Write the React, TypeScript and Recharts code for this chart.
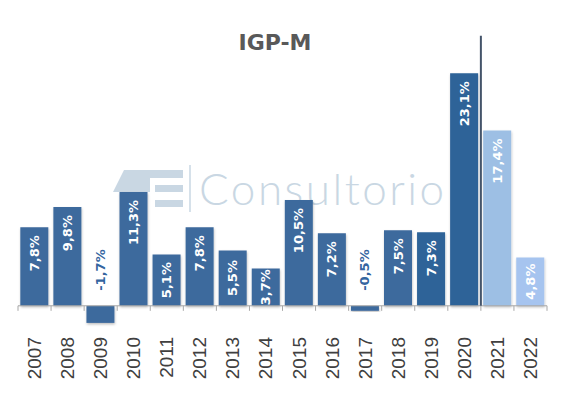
import React from 'react';
import { BarChart, Bar, XAxis, YAxis, Cell, LabelList, ReferenceLine } from 'recharts';

// IGP-M anual (%)
const years = ['2007', '2008', '2009', '2010', '2011', '2012', '2013', '2014', '2015', '2016', '2017', '2018', '2019', '2020', '2021', '2022'];
const igpm = [7.8, 9.8, -1.7, 11.3, 5.1, 7.8, 5.5, 3.7, 10.5, 7.2, -0.5, 7.5, 7.3, 23.1, 17.4, 4.8];
const yDomain = [-3, 25];

const chartData = years.map((year, i) => ({ year, value: igpm[i] }));

const W = 570;
const H = 397;
const AXIS_GREY = '#A6A6A6';
const LABEL_BLUE = '#3465A0';

function barColor(year: string) {
  if (year === '2021') return '#9DBFE4';
  if (year === '2022') return '#A6C4EF';
  if (year === '2019' || year === '2020') return '#2E6398';
  return '#3D6A9D';
}

const fmt = (v: number) => v.toFixed(1).replace('.', ',') + '%';

function BarLabel(props: any) {
  const { x, y, width, height, value } = props;
  const cx = x + width / 2;
  const top = Math.min(y, y + height);
  const bottom = Math.max(y, y + height);
  const common = {
    fontFamily: 'DejaVu Sans, sans-serif',
    fontWeight: 700,
    fontSize: 13,
    dominantBaseline: 'central' as const,
  };
  if (value < 0) {
    // label sits above the zero line, in blue
    const py = top - 15;
    return (
      <text x={cx} y={py} transform={`rotate(-90 ${cx} ${py})`} textAnchor="start" fill={LABEL_BLUE} {...common}>
        {fmt(value)}
      </text>
    );
  }
  const h = bottom - top;
  if (h < 62) {
    const py = (top + bottom) / 2;
    return (
      <text x={cx} y={py} transform={`rotate(-90 ${cx} ${py})`} textAnchor="middle" fill="#fff" {...common}>
        {fmt(value)}
      </text>
    );
  }
  const py = top + 8;
  return (
    <text x={cx} y={py} transform={`rotate(-90 ${cx} ${py})`} textAnchor="end" fill="#fff" {...common}>
      {fmt(value)}
    </text>
  );
}

function YearTick(props: any) {
  const { x, y, payload } = props;
  const py = y + 1;
  return (
    <text
      x={x}
      y={py}
      transform={`rotate(-90 ${x} ${py})`}
      textAnchor="end"
      dominantBaseline="central"
      fontFamily="Liberation Sans Narrow, Liberation Sans, sans-serif"
      fontSize={19}
      fill="#404040"
    >
      {payload.value}
    </text>
  );
}

function Watermark() {
  const c = '#C9D7E3';
  return (
    <svg width={W} height={H} style={{ position: 'absolute', left: 0, top: 0 }}>
      <defs>
        <filter id="barShadow" x="-20%" y="-10%" width="140%" height="130%">
          <feDropShadow dx="0.5" dy="1.5" stdDeviation="1.2" floodColor="#000" floodOpacity="0.25" />
        </filter>
      </defs>
      <polygon points="113,192 124,170 183,170 183,178 150,178 150,192" fill={c} />
      <rect x={155} y={185} width={28} height={7} fill={c} />
      <rect x={155} y={200} width={28} height={7} fill={c} />
      <line x1={190} y1={165} x2={190} y2={212} stroke={c} strokeWidth={1.5} />
      <text x={199} y={205} fontFamily="Lato, sans-serif" fontWeight={300} fontSize={44} letterSpacing={2.5} fill={c}>
        Consultorio
      </text>
    </svg>
  );
}

export default function App() {
  return (
    <div style={{ position: 'absolute', left: 0, top: 0, width: W, height: H, background: '#fff' }}>
      <Watermark />
      <div
        style={{
          position: 'absolute',
          left: 0,
          top: 30,
          width: 550,
          textAlign: 'center',
          fontFamily: 'DejaVu Sans, sans-serif',
          fontWeight: 700,
          fontSize: 22,
          color: '#595959',
        }}
      >
        IGP-M
      </div>
      <div style={{ position: 'absolute', left: 0, top: 0 }}>
        <BarChart width={W} height={H} data={chartData} margin={{ top: 54, right: 23, bottom: 31, left: 18 }} barCategoryGap="7%">
          <XAxis dataKey="year" height={30} axisLine={false} tickLine={false} tickSize={0} tickMargin={0} interval={0} tick={<YearTick />} />
          <YAxis hide domain={yDomain} />
          <ReferenceLine y={0} stroke={AXIS_GREY} strokeWidth={1} />
          {years.map((yr) => (
            <ReferenceLine
              key={yr}
              segment={[{ x: yr, y: 0 }, { x: yr, y: -0.5 }]}
              position="start"
              stroke={AXIS_GREY}
              ifOverflow="visible"
            />
          ))}
          <ReferenceLine
            segment={[{ x: years[years.length - 1], y: 0 }, { x: years[years.length - 1], y: -0.5 }]}
            position="end"
            stroke={AXIS_GREY}
            ifOverflow="visible"
          />
          <Bar dataKey="value" isAnimationActive={false} filter="url(#barShadow)">
            {chartData.map((d) => (
              <Cell key={d.year} fill={barColor(d.year)} />
            ))}
            <LabelList dataKey="value" content={<BarLabel />} />
          </Bar>
          <ReferenceLine
            segment={[{ x: '2020', y: 0 }, { x: '2020', y: 26.8 }]}
            position="end"
            stroke="#44546A"
            strokeWidth={2}
            ifOverflow="visible"
          />
        </BarChart>
      </div>
    </div>
  );
}
